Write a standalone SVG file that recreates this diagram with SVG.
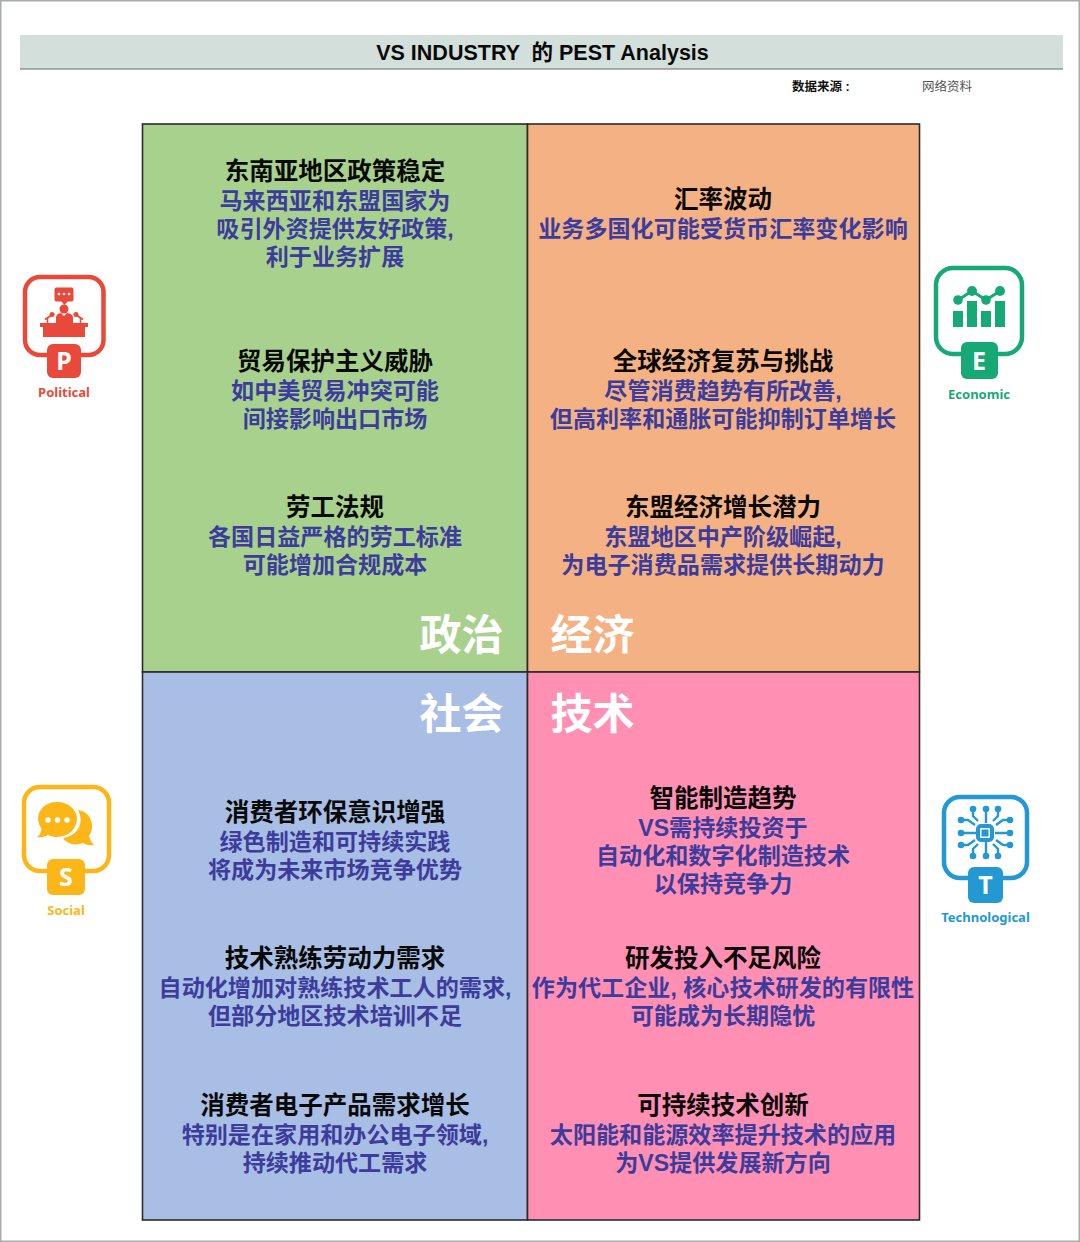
<svg xmlns="http://www.w3.org/2000/svg" width="1080" height="1242" viewBox="0 0 1080 1242">
<style>
text{font-family:"Liberation Sans","Noto Sans CJK SC",sans-serif}
.h{font-size:24.5px;font-weight:700;fill:#0a0a0a;text-anchor:middle}
.b{font-size:23.1px;font-weight:700;fill:#3c3c9c;text-anchor:middle}
.q{font-size:42px;font-weight:700;fill:#fff}
.cell{stroke:#2b2b2b;stroke-width:1.6}
.l{font-size:13px;font-weight:700;text-anchor:middle;font-family:"Noto Sans","Liberation Sans",sans-serif}
.frame{fill:none;stroke-width:4.5}
.badge{font-size:25px;font-weight:700;fill:#fff;text-anchor:middle;font-family:"Noto Sans","Liberation Sans",sans-serif}
</style>
<rect width="1080" height="1242" fill="#fff"/>
<rect x="0.75" y="0.75" width="1078.5" height="1240.5" fill="none" stroke="#a9adab" stroke-width="1.5"/>
<g id="title">
<rect x="20" y="35" width="1043" height="34" fill="#d2dfda"/>
<line x1="20" y1="69" x2="1063" y2="69" stroke="#666" stroke-width="1.2"/>
<text x="542.500" y="59.500" font-size="21.500" font-weight="700" text-anchor="middle" fill="#0a0a0a" xml:space="preserve">VS INDUSTRY  的 PEST Analysis</text>
</g>
<g id="source">
<text x="792" y="91" font-size="12.500" font-weight="700" fill="#111">数据来源 :</text>
<text x="922" y="91" font-size="12.500" fill="#555">网络资料</text>
</g>
<g id="quadrant-political">
<rect class="cell" x="142.500" y="124" width="385" height="548" fill="#a9d18e"/>
<text class="h" x="335" y="179.500">东南亚地区政策稳定</text>
<text class="b" x="335" y="208.500">马来西亚和东盟国家为</text>
<text class="b" x="335" y="236.500">吸引外资提供友好政策,</text>
<text class="b" x="335" y="264.500">利于业务扩展</text>
<text class="h" x="335" y="369.500">贸易保护主义威胁</text>
<text class="b" x="335" y="398.500">如中美贸易冲突可能</text>
<text class="b" x="335" y="426.500">间接影响出口市场</text>
<text class="h" x="335" y="515.500">劳工法规</text>
<text class="b" x="335" y="544.500">各国日益严格的劳工标准</text>
<text class="b" x="335" y="572.500">可能增加合规成本</text>
<text class="q" x="419.500" y="650">政治</text>
</g>
<g id="quadrant-economic">
<rect class="cell" x="527.500" y="124" width="392" height="548" fill="#f4b183"/>
<text class="h" x="723" y="207.500">汇率波动</text>
<text class="b" x="723" y="236.500">业务多国化可能受货币汇率变化影响</text>
<text class="h" x="723" y="369.500">全球经济复苏与挑战</text>
<text class="b" x="723" y="398.500">尽管消费趋势有所改善,</text>
<text class="b" x="723" y="426.500">但高利率和通胀可能抑制订单增长</text>
<text class="h" x="723" y="515.500">东盟经济增长潜力</text>
<text class="b" x="723" y="544.500">东盟地区中产阶级崛起,</text>
<text class="b" x="723" y="572.500">为电子消费品需求提供长期动力</text>
<text class="q" x="550.500" y="650">经济</text>
</g>
<g id="quadrant-social">
<rect class="cell" x="142.500" y="672" width="385" height="548" fill="#a9bee4"/>
<text class="q" x="419.500" y="729">社会</text>
<text class="h" x="335" y="820.500">消费者环保意识增强</text>
<text class="b" x="335" y="849.500">绿色制造和可持续实践</text>
<text class="b" x="335" y="877.500">将成为未来市场竞争优势</text>
<text class="h" x="335" y="967">技术熟练劳动力需求</text>
<text class="b" x="335" y="996">自动化增加对熟练技术工人的需求,</text>
<text class="b" x="335" y="1024">但部分地区技术培训不足</text>
<text class="h" x="335" y="1114">消费者电子产品需求增长</text>
<text class="b" x="335" y="1143">特别是在家用和办公电子领域,</text>
<text class="b" x="335" y="1171">持续推动代工需求</text>
</g>
<g id="quadrant-technological">
<rect class="cell" x="527.500" y="672" width="392" height="548" fill="#ff8fb3"/>
<text class="q" x="550.500" y="729">技术</text>
<text class="h" x="723" y="806.500">智能制造趋势</text>
<text class="b" x="723" y="835.500">VS需持续投资于</text>
<text class="b" x="723" y="863.500">自动化和数字化制造技术</text>
<text class="b" x="723" y="891.500">以保持竞争力</text>
<text class="h" x="723" y="967">研发投入不足风险</text>
<text class="b" x="723" y="996">作为代工企业, 核心技术研发的有限性</text>
<text class="b" x="723" y="1024">可能成为长期隐忧</text>
<text class="h" x="723" y="1114">可持续技术创新</text>
<text class="b" x="723" y="1143">太阳能和能源效率提升技术的应用</text>
<text class="b" x="723" y="1171">为VS提供发展新方向</text>
</g>
<g id="icon-political" fill="#e8493b">
<rect class="frame" x="25" y="277" width="78.500" height="78" rx="15" stroke="#e8493b"/>
<rect x="47" y="344" width="34" height="34" rx="6"/>
<text class="badge" x="64" y="370">P</text>
<rect x="54.500" y="287.500" width="19" height="14" rx="2"/>
<path d="M61 301h7l-3.500 4z"/>
<g fill="#fff"><circle cx="59" cy="294" r="1.300"/><circle cx="64" cy="294" r="1.300"/><circle cx="69" cy="294" r="1.300"/></g>
<circle cx="64" cy="309" r="4.500"/>
<path d="M56 323v-5q0-4.500 5-5l3 3 3-3q6 .5 6 5v5z"/>
<path d="M40 323h48v4h-3v10H43v-10h-3z"/>
<path d="M45 319.500l9-6M83 319.500l-9-6" fill="none" stroke="#e8493b" stroke-width="1.800"/>
<path d="M47.500 323v-5M80.500 323v-5" fill="none" stroke="#e8493b" stroke-width="1.500"/>
<circle cx="52" cy="314.500" r="2.500"/><circle cx="76" cy="314.500" r="2.500"/>
<text class="l" x="64" y="397">Political</text>
</g>
<g id="icon-economic" fill="#17a975">
<rect class="frame" x="936" y="268" width="86" height="86" rx="17" stroke="#17a975"/>
<rect x="961" y="342" width="37" height="37" rx="6"/>
<text class="badge" x="979" y="370">E</text>
<rect x="953" y="311" width="10" height="16"/><rect x="967" y="301" width="10" height="26"/><rect x="981" y="311" width="10" height="16"/><rect x="995" y="301" width="10" height="26"/>
<path d="M958 300l14-9 14 9 14-9" fill="none" stroke="#17a975" stroke-width="3"/>
<circle cx="958" cy="300" r="4.800"/><circle cx="972" cy="291" r="5"/><circle cx="986" cy="300" r="4.800"/><circle cx="1000" cy="291" r="5"/>
<text class="l" x="979" y="399">Economic</text>
</g>
<g id="icon-social" fill="#fdb618">
<rect class="frame" x="24" y="787" width="85" height="84" rx="16" stroke="#fdb618"/>
<rect x="47" y="859" width="38" height="36" rx="6"/>
<text class="badge" x="66" y="886">S</text>
<path d="M78 810c9 1 14 8 14 16 0 4-1 7-3 10q1 5 5 9q-7 1-11-2c-8 3-16 1-20-5 14-2 22-14 15-28z"/>
<path d="M57 802c12 0 20 8 20 17s-8 18-20 18c-3 0-6-.5-9-2q-5 3-11 2q4-3 4.500-8a18 18 0 0 1-3.500-10c0-9 7-17 19-17z" stroke="#fff" stroke-width="1.800" paint-order="stroke"/>
<g fill="#fff"><circle cx="48" cy="820" r="2.700"/><circle cx="57.500" cy="820" r="2.700"/><circle cx="67" cy="820" r="2.700"/></g>
<text class="l" x="66" y="915">Social</text>
</g>
<g id="icon-technological" fill="#2398d3">
<rect class="frame" x="944" y="797" width="83" height="81" rx="16" stroke="#2398d3"/>
<rect x="968" y="867" width="35" height="36" rx="6"/>
<text class="badge" x="985.500" y="894">T</text>
<rect x="978" y="826" width="14" height="14" rx="3" fill="none" stroke="#2398d3" stroke-width="4"/>
<rect x="981.500" y="829.500" width="7" height="7"/>
<path d="M973 809v7l5 5M986 809v14M998 809v7l-5 5M973 856v-7l5-5M986 856v-14M998 856v-7l-5-5M961 820h7l7 5M961 833h15M961 845h7l7-5M1010 820h-7l-7 5M1010 833h-15M1010 845h-7l-7-5" fill="none" stroke="#2398d3" stroke-width="2.400"/>
<circle cx="973" cy="809" r="3.300"/><circle cx="986" cy="809" r="3.300"/><circle cx="998" cy="809" r="3.300"/><circle cx="973" cy="856" r="3.300"/><circle cx="986" cy="856" r="3.300"/><circle cx="998" cy="856" r="3.300"/><circle cx="961" cy="820" r="3.300"/><circle cx="961" cy="833" r="3.300"/><circle cx="961" cy="845" r="3.300"/><circle cx="1010" cy="820" r="3.300"/><circle cx="1010" cy="833" r="3.300"/><circle cx="1010" cy="845" r="3.300"/>
<text class="l" x="985.500" y="922">Technological</text>
</g>
</svg>
